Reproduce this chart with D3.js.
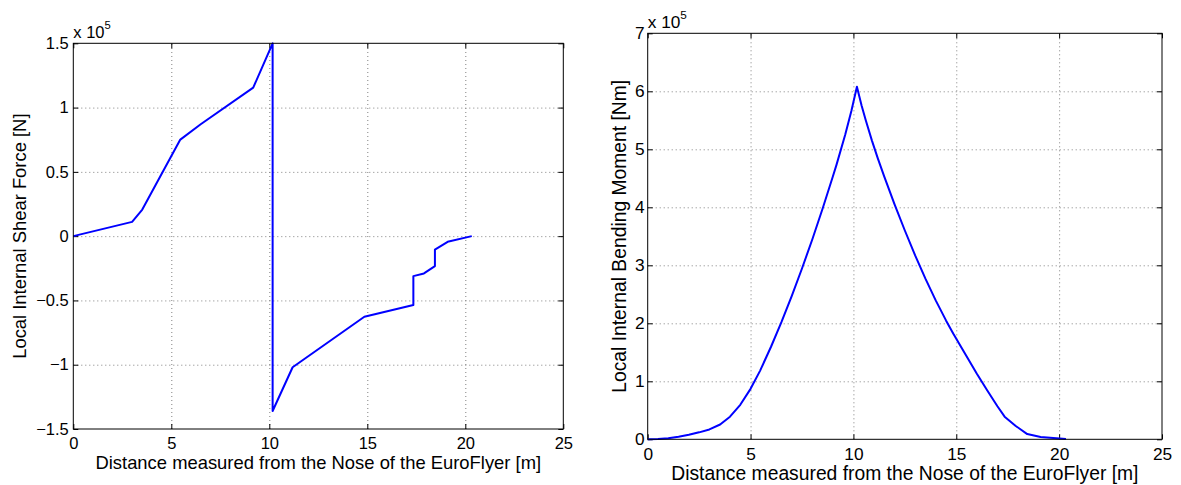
<!DOCTYPE html>
<html>
<head>
<meta charset="utf-8">
<script src="https://cdn.jsdelivr.net/npm/d3@7"></script>
<style>
  html, body { margin: 0; padding: 0; background: #fff; }
  svg { display: block; font-family: "Liberation Sans", Arial, Helvetica, sans-serif; }
</style>
</head>
<body>
<svg id="chart" width="1181" height="485"></svg>
<script>
// Distance from the nose [m]
const shearX = [0, 3.0, 3.52, 5.46, 6.5, 9.18, 10.17, 10.17, 11.19, 14.85, 17.35, 17.35, 17.89, 18.45, 18.45, 19.1, 20.33];
// Local internal shear force [x 1e5 N]
const shearY = [0, 0.111, 0.207, 0.751, 0.87, 1.155, 1.5, -1.36, -1.02, -0.627, -0.536, -0.311, -0.29, -0.233, -0.104, -0.044, 0];

// Distance from the nose [m]
const momentX = [0, 0.5, 1, 1.5, 2, 2.5, 3, 3.52, 4, 4.5, 5, 5.46, 6, 6.5, 7, 7.5, 8, 8.5, 9, 9.18, 9.6, 9.9, 10.17,
                 10.4, 10.6, 10.9, 11.19, 11.5, 12, 12.5, 13, 13.5, 14, 14.5, 14.85, 15.5, 16, 16.5, 17, 17.35, 17.89, 18.45, 19.1, 20.33];
// Local internal bending moment [x 1e5 Nm]
const momentY = [0, 0.006, 0.02, 0.045, 0.078, 0.12, 0.17, 0.255, 0.39, 0.595, 0.87, 1.18, 1.6, 2.02, 2.47, 2.945, 3.445, 3.975, 4.53, 4.736, 5.25, 5.66, 6.08,
                 5.75, 5.5, 5.15, 4.84, 4.53, 4.05, 3.6, 3.17, 2.77, 2.395, 2.05, 1.825, 1.43, 1.13, 0.845, 0.57, 0.39, 0.23, 0.09, 0.04, 0.005];

const xTicks = [0, 5, 10, 15, 20, 25];
const xTickLabels = ["0", "5", "10", "15", "20", "25"];
const shearTicks = [-1.5, -1, -0.5, 0, 0.5, 1, 1.5];
const shearTickLabels = ["\u22121.5", "\u22121", "\u22120.5", "0", "0.5", "1", "1.5"];
const momentTicks = [0, 1, 2, 3, 4, 5, 6, 7];
const momentTickLabels = ["0", "1", "2", "3", "4", "5", "6", "7"];

const xTitle = "Distance measured from the Nose of the EuroFlyer [m]";

const svg = d3.select("#chart");

function drawPanel(p) {
  const x = d3.scaleLinear().domain([0, 25]).range([p.left, p.right]);
  const y = d3.scaleLinear().domain(p.yDomain).range([p.bottom, p.top]);
  const g = svg.append("g");
  const w = p.right - p.left, h = p.bottom - p.top;

  // dotted grid at interior ticks
  const gridX = xTicks.filter(v => v > 0 && v < 25);
  const gridY = p.yTicks.filter(v => v > p.yDomain[0] && v < p.yDomain[1]);
  g.append("g")
    .attr("transform", `translate(0,${p.bottom})`)
    .call(d3.axisBottom(x).tickValues(gridX).tickSize(-h).tickFormat(""))
    .call(a => a.select(".domain").remove())
    .selectAll("line").attr("stroke", "#808080").attr("stroke-dasharray", "1,3");
  g.append("g")
    .attr("transform", `translate(${p.left},0)`)
    .call(d3.axisLeft(y).tickValues(gridY).tickSize(-w).tickFormat(""))
    .call(a => a.select(".domain").remove())
    .selectAll("line").attr("stroke", "#808080").attr("stroke-dasharray", "1,3");

  // inward tick marks on all four sides, labels on bottom and left
  const tl = 5;
  const bottom = g.append("g")
    .attr("transform", `translate(0,${p.bottom})`)
    .call(d3.axisBottom(x).tickValues(xTicks).tickSize(-tl).tickPadding(p.xPad)
      .tickFormat((d, i) => xTickLabels[i]));
  g.append("g")
    .attr("transform", `translate(0,${p.top})`)
    .call(d3.axisTop(x).tickValues(xTicks).tickSize(-tl).tickFormat(""));
  const left = g.append("g")
    .attr("transform", `translate(${p.left},0)`)
    .call(d3.axisLeft(y).tickValues(p.yTicks).tickSize(-tl).tickPadding(p.yPad)
      .tickFormat((d, i) => p.yTickLabels[i]));
  g.append("g")
    .attr("transform", `translate(${p.right},0)`)
    .call(d3.axisRight(y).tickValues(p.yTicks).tickSize(-tl).tickFormat(""));
  g.selectAll(".domain").remove();
  g.selectAll(".tick line").filter(function () { return !this.getAttribute("stroke-dasharray"); })
    .attr("stroke", "#000");
  [bottom, left].forEach(a => a.selectAll("text")
    .attr("font-size", p.tickFont).attr("fill", "#000")
    .attr("font-family", "'Liberation Sans', Arial, Helvetica, sans-serif"));

  // data line
  const line = d3.line().x(d => x(d[0])).y(d => y(d[1]));
  g.append("path")
    .datum(p.xs.map((v, i) => [v, p.ys[i]]))
    .attr("d", line)
    .attr("fill", "none")
    .attr("stroke", "#0000ff")
    .attr("stroke-width", 2)
    .attr("stroke-linejoin", "round");

  // axes box
  g.append("rect")
    .attr("x", p.left).attr("y", p.top).attr("width", w).attr("height", h)
    .attr("fill", "none").attr("stroke", "#000").attr("stroke-width", 1);

  // exponent marker
  const ex = g.append("text")
    .attr("x", p.left).attr("y", p.top - 5.5)
    .attr("font-size", p.tickFont).attr("fill", "#000");
  ex.append("tspan").text("x 10");
  ex.append("tspan").attr("dy", -9).attr("font-size", p.tickFont * 0.68).text("5");

  // axis titles
  g.append("text")
    .attr("x", (p.left + p.right) / 2).attr("y", p.xTitleY)
    .attr("text-anchor", "middle").attr("font-size", p.titleFont).attr("fill", "#000")
    .text(xTitle);
  g.append("text")
    .attr("transform", `translate(${p.yTitleX},${(p.top + p.bottom) / 2}) rotate(-90)`)
    .attr("text-anchor", "middle").attr("font-size", p.titleFont).attr("fill", "#000")
    .text(p.yTitle);
}

drawPanel({
  left: 73.3, right: 563.3, top: 43.3, bottom: 429,
  yDomain: [-1.5, 1.5], yTicks: shearTicks, yTickLabels: shearTickLabels,
  xs: shearX, ys: shearY,
  tickFont: 16.5, titleFont: 18.4, xPad: 8.5, yPad: 4.5,
  xTitleY: 468.5, yTitleX: 25.5,
  yTitle: "Local Internal Shear Force [N]"
});

drawPanel({
  left: 647.7, right: 1162, top: 33.3, bottom: 439.3,
  yDomain: [0, 7], yTicks: momentTicks, yTickLabels: momentTickLabels,
  xs: momentX, ys: momentY,
  tickFont: 17.3, titleFont: 19.3, xPad: 8.5, yPad: 3,
  xTitleY: 480, yTitleX: 625.5,
  yTitle: "Local Internal Bending Moment [Nm]"
});
</script>
</body>
</html>
